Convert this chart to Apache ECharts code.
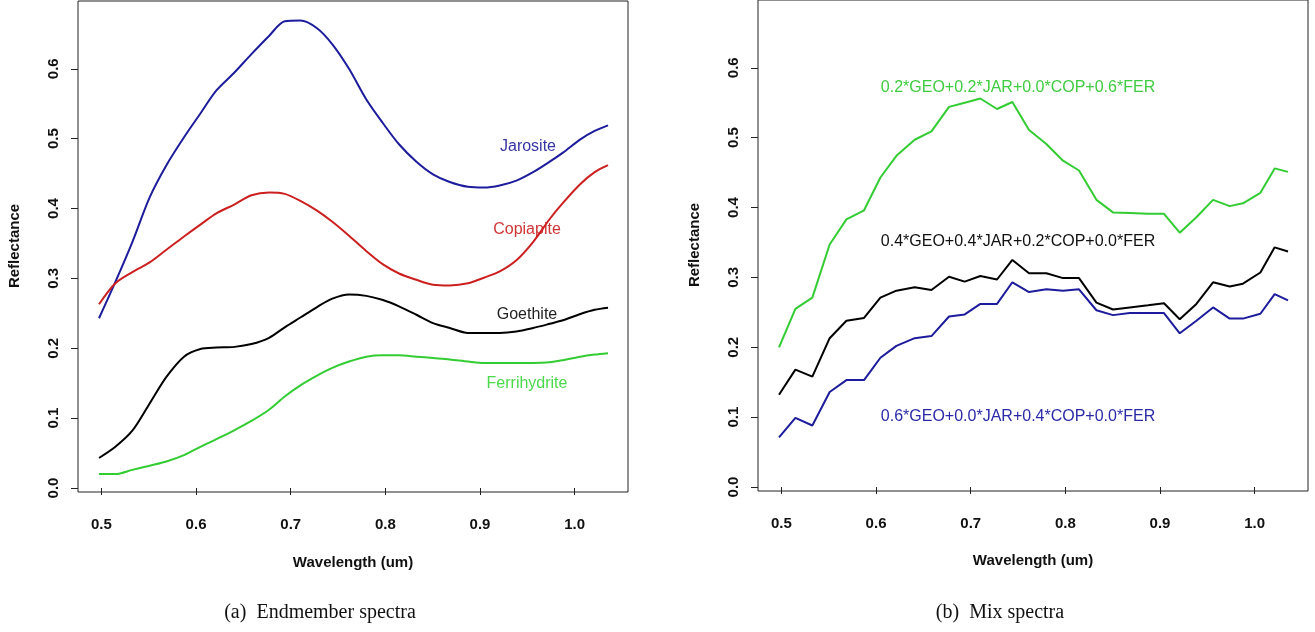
<!DOCTYPE html>
<html>
<head>
<meta charset="utf-8">
<script src="https://cdn.jsdelivr.net/npm/echarts@6/dist/echarts.min.js"></script>
<style>
  html, body { margin: 0; padding: 0; background: #fff; }
  #main { width: 1315px; height: 632px; }
</style>
</head>
<body>
<div id="main"></div>
<script>
// wavelengths (um) shared by both panels
var wavelength = [0.4975, 0.5148, 0.5327, 0.551, 0.5687, 0.5873, 0.6046, 0.6215, 0.6408, 0.6585,
  0.6771, 0.6937, 0.7102, 0.7278, 0.744, 0.7616, 0.7799, 0.7975, 0.8144, 0.8328,
  0.8503, 0.868, 0.8873, 0.9042, 0.9208, 0.9384, 0.956, 0.9736, 0.9876, 1.006, 1.0211, 1.0352];

// (a) endmember spectra
var jarosite = [0.243, 0.295, 0.352, 0.416, 0.462, 0.502, 0.536, 0.569, 0.595, 0.621,
  0.647, 0.668, 0.669, 0.658, 0.635, 0.600, 0.556, 0.522, 0.492, 0.467,
  0.449, 0.438, 0.431, 0.430, 0.433, 0.440, 0.452, 0.467, 0.480, 0.499, 0.511, 0.519];
var copiapite = [0.263, 0.293, 0.309, 0.323, 0.341, 0.360, 0.377, 0.393, 0.406, 0.419,
  0.423, 0.421, 0.411, 0.397, 0.381, 0.361, 0.339, 0.320, 0.307, 0.298,
  0.291, 0.290, 0.293, 0.301, 0.310, 0.326, 0.352, 0.385, 0.408, 0.435, 0.452, 0.462];
var goethite = [0.043, 0.059, 0.082, 0.121, 0.159, 0.188, 0.199, 0.201, 0.202, 0.206,
  0.215, 0.230, 0.244, 0.259, 0.271, 0.277, 0.275, 0.269, 0.260, 0.248,
  0.236, 0.229, 0.222, 0.222, 0.222, 0.224, 0.229, 0.235, 0.240, 0.249, 0.255, 0.258];
var ferrihydrite = [0.020, 0.020, 0.026, 0.032, 0.038, 0.047, 0.059, 0.070, 0.083, 0.096,
  0.112, 0.131, 0.147, 0.161, 0.172, 0.181, 0.188, 0.190, 0.190, 0.188,
  0.186, 0.184, 0.181, 0.179, 0.179, 0.179, 0.179, 0.180, 0.183, 0.188, 0.191, 0.193];

// (b) mix spectra
var mixGreen = [0.200, 0.255, 0.271, 0.347, 0.383, 0.396, 0.443, 0.474, 0.497, 0.509,
  0.544, 0.550, 0.556, 0.541, 0.551, 0.511, 0.491, 0.467, 0.453, 0.411,
  0.393, 0.392, 0.391, 0.391, 0.364, 0.386, 0.411, 0.402, 0.406, 0.421, 0.456, 0.451];
var mixBlack = [0.132, 0.168, 0.158, 0.213, 0.238, 0.242, 0.271, 0.281, 0.286, 0.282,
  0.301, 0.294, 0.302, 0.297, 0.325, 0.306, 0.306, 0.299, 0.299, 0.264,
  0.254, 0.257, 0.260, 0.263, 0.240, 0.262, 0.293, 0.287, 0.291, 0.307, 0.343, 0.337];
var mixBlue = [0.071, 0.099, 0.088, 0.136, 0.153, 0.153, 0.185, 0.202, 0.213, 0.216,
  0.244, 0.247, 0.262, 0.262, 0.293, 0.279, 0.283, 0.281, 0.283, 0.253,
  0.246, 0.249, 0.249, 0.249, 0.220, 0.238, 0.257, 0.241, 0.241, 0.248, 0.276, 0.267];

var xTicks = [0.5, 0.6, 0.7, 0.8, 0.9, 1.0];
var yTicks = [0.0, 0.1, 0.2, 0.3, 0.4, 0.5, 0.6];

var BLUE = '#1c1c9c', RED = '#cc2020', GREEN = '#33cc33', BLACK = '#000';
var sans = '"Liberation Sans", Arial, sans-serif';

function pairs(ys) {
  return wavelength.map(function (w, i) { return [w, ys[i]]; });
}

function xAxisFor(idx) {
  return {
    type: 'value', gridIndex: idx, min: 0.4753, max: 1.0563,
    axisLine: { show: false },
    splitLine: { show: false },
    axisTick: { customValues: xTicks, length: 7, lineStyle: { color: '#222' } },
    axisLabel: {
      customValues: xTicks, margin: 25, color: '#111',
      fontFamily: sans, fontWeight: 'bold', fontSize: 15,
      formatter: function (v) { return v.toFixed(1); }
    }
  };
}

function yAxisFor(idx) {
  return {
    type: 'value', gridIndex: idx, min: -0.0057, max: 0.697,
    axisLine: { show: false },
    splitLine: { show: false },
    axisTick: { customValues: yTicks, length: 7, lineStyle: { color: '#222' } },
    axisLabel: {
      customValues: yTicks, margin: 17, rotate: 90, color: '#111',
      fontFamily: sans, fontWeight: 'bold', fontSize: 15,
      formatter: function (v) { return v.toFixed(1); }
    }
  };
}

function line(idx, ys, color, smooth) {
  return {
    type: 'line', xAxisIndex: idx, yAxisIndex: idx,
    data: pairs(ys), showSymbol: false, smooth: smooth,
    lineStyle: { color: color, width: 2 }, silent: true
  };
}

function txt(x, y, s, color, opts) {
  opts = opts || {};
  return {
    type: 'text', x: x, y: y, rotation: opts.rot || 0,
    style: {
      text: s, fill: color, align: 'center', verticalAlign: 'middle',
      font: opts.font || ('16px ' + sans)
    }
  };
}

var chart = echarts.init(document.getElementById('main'));

var option = {
  animation: false,
  backgroundColor: '#fff',
  grid: [
    { left: 78, top: 1, width: 550, height: 491, show: true, borderColor: '#222', borderWidth: 1 },
    { left: 758, top: -1, width: 550, height: 492, show: true, borderColor: '#222', borderWidth: 1 }
  ],
  xAxis: [xAxisFor(0), xAxisFor(1)],
  yAxis: [yAxisFor(0), yAxisFor(1)],
  series: [
    line(0, jarosite, BLUE, 0.3),
    line(0, copiapite, RED, 0.3),
    line(0, goethite, BLACK, 0.3),
    line(0, ferrihydrite, GREEN, 0.3),
    line(1, mixGreen, GREEN, false),
    line(1, mixBlack, BLACK, false),
    line(1, mixBlue, BLUE, false)
  ],
  graphic: [
    // panel (a) curve labels
    txt(528, 147, 'Jarosite', '#3535a5'),
    txt(527, 230, 'Copiapite', '#d03535'),
    txt(527, 315, 'Goethite', '#222'),
    txt(527, 384, 'Ferrihydrite', '#4cd84c'),
    // panel (b) curve labels
    txt(1018, 88, '0.2*GEO+0.2*JAR+0.0*COP+0.6*FER', '#40cc40'),
    txt(1018, 242, '0.4*GEO+0.4*JAR+0.2*COP+0.0*FER', '#111'),
    txt(1018, 417, '0.6*GEO+0.0*JAR+0.4*COP+0.0*FER', '#2a2aa8'),
    // axis titles
    txt(15, 246, 'Reflectance', '#111', { rot: Math.PI / 2, font: 'bold 15px ' + sans }),
    txt(695, 245, 'Reflectance', '#111', { rot: Math.PI / 2, font: 'bold 15px ' + sans }),
    txt(353, 563, 'Wavelength (um)', '#111', { font: 'bold 15px ' + sans }),
    txt(1033, 561, 'Wavelength (um)', '#111', { font: 'bold 15px ' + sans }),
    // subfigure captions
    txt(320, 613, '(a)  Endmember spectra', '#111', { font: '20px "Liberation Serif", "Times New Roman", serif' }),
    txt(1000, 613, '(b)  Mix spectra', '#111', { font: '20px "Liberation Serif", "Times New Roman", serif' })
  ]
};

chart.setOption(option);
</script>
</body>
</html>
